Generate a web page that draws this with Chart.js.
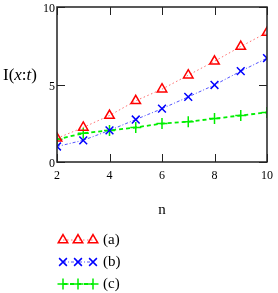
<!DOCTYPE html>
<html>
<head>
<meta charset="utf-8">
<script src="https://cdn.jsdelivr.net/npm/chart.js@4"></script>
<style>
  html, body { margin: 0; padding: 0; background: #fff; }
  #wrap { width: 278px; height: 293px; }
</style>
</head>
<body>
<div id="wrap"><canvas id="grafico" width="278" height="293"></canvas></div>
<script>
// dados
const nValores = [2, 3, 4, 5, 6, 7, 8, 9, 10];
const serieA = [1.53, 2.23, 3.0, 3.95, 4.7, 5.6, 6.5, 7.45, 8.35];
const serieB = [1.0, 1.4, 2.04, 2.74, 3.44, 4.2, 4.97, 5.86, 6.7];
const serieC = [1.46, 1.85, 2.04, 2.23, 2.48, 2.6, 2.8, 3.0, 3.2];
const rotulos = ["(a)", "(b)", "(c)"];
const ticksX = [2, 4, 6, 8, 10];
const ticksY = [0, 5, 10];

const serif = "'Liberation Serif', 'DejaVu Serif', serif";

function pontos(vals) {
  return nValores.map((n, i) => ({ x: n, y: vals[i] }));
}

const datasets = [
  {
    label: rotulos[0], data: pontos(serieA),
    borderColor: "rgba(255,60,60,0.75)", borderWidth: 1, borderDash: [1.5, 2.5],
    pointStyle: "triangle", pointRadius: 5.5, pointBorderColor: "#ff0000",
    pointBackgroundColor: "rgba(0,0,0,0)", pointBorderWidth: 1.5
  },
  {
    label: rotulos[1], data: pontos(serieB),
    borderColor: "rgba(40,40,255,0.8)", borderWidth: 1, borderDash: [3, 2, 1, 2],
    pointStyle: "crossRot", pointRadius: 5.5, pointBorderColor: "#0000ff",
    pointBorderWidth: 1.5
  },
  {
    label: rotulos[2], data: pontos(serieC),
    borderColor: "#00ee00", borderWidth: 1.8, borderDash: [4, 3],
    pointStyle: "cross", pointRadius: 5.5, pointBorderColor: "#00ee00",
    pointBorderWidth: 1.5
  }
];

// moldura, ticks para dentro, título do eixo y e legenda
const extras = {
  id: "extras",
  afterDraw(c) {
    const ctx = c.ctx;
    const a = c.chartArea;
    const sx = c.scales.x, sy = c.scales.y;
    ctx.save();
    ctx.strokeStyle = "#222";
    ctx.lineWidth = 1.5;
    ctx.strokeRect(a.left, a.top, a.right - a.left, a.bottom - a.top);
    ctx.lineWidth = 1;
    ctx.beginPath();
    ticksX.forEach(v => {
      const px = Math.round(sx.getPixelForValue(v)) + 0.5;
      ctx.moveTo(px, a.bottom); ctx.lineTo(px, a.bottom - 8);
      ctx.moveTo(px, a.top); ctx.lineTo(px, a.top + 8);
    });
    ticksY.forEach(v => {
      const py = Math.round(sy.getPixelForValue(v)) + 0.5;
      ctx.moveTo(a.left, py); ctx.lineTo(a.left + 8, py);
      ctx.moveTo(a.right, py); ctx.lineTo(a.right - 8, py);
    });
    ctx.stroke();

    // I(x:t)
    ctx.fillStyle = "#000";
    ctx.textBaseline = "middle";
    let x = 3;
    const yT = 76;
    [["I(", ""], ["x", "italic "], [":", ""], ["t", "italic "], [")", ""]].forEach(([t, st]) => {
      ctx.font = st + "17px " + serif;
      ctx.fillText(t, x, yT);
      x += ctx.measureText(t).width;
    });

    // legenda
    const ys = [240, 262, 284];
    c.data.datasets.forEach((ds, i) => {
      const y = ys[i];
      ctx.save();
      ctx.strokeStyle = ds.borderColor;
      ctx.lineWidth = ds.borderWidth;
      ctx.setLineDash(ds.borderDash);
      ctx.beginPath();
      ctx.moveTo(63, y); ctx.lineTo(93, y);
      ctx.stroke();
      ctx.restore();
      [63, 78, 93].forEach(px => {
        ctx.strokeStyle = ds.pointBorderColor;
        ctx.fillStyle = "rgba(0,0,0,0)";
        ctx.lineWidth = ds.pointBorderWidth;
        Chart.helpers.drawPoint(ctx, {
          pointStyle: ds.pointStyle, radius: ds.pointRadius, rotation: 0, borderWidth: ds.pointBorderWidth
        }, px, y);
      });
      ctx.fillStyle = "#000";
      ctx.font = "15px " + serif;
      ctx.textBaseline = "middle";
      ctx.fillText(ds.label, 103, y);
    });
    ctx.restore();
  }
};

new Chart(document.getElementById("grafico"), {
  type: "line",
  data: { datasets },
  options: {
    responsive: false,
    animation: false,
    layout: { padding: { left: 0, right: 11, top: 5, bottom: 74 } },
    plugins: { legend: { display: false }, tooltip: { enabled: false } },
    scales: {
      x: {
        type: "linear", min: 2, max: 10,
        afterBuildTicks: s => { s.ticks = ticksX.map(v => ({ value: v })); },
        afterFit: s => { s.height = 57; s.paddingLeft = 0; s.paddingRight = 0; },
        grid: { display: false, drawTicks: false },
        border: { display: false },
        ticks: { color: "#000", padding: 7, maxRotation: 0, font: { family: serif, size: 12 } },
        title: { display: true, text: "n", color: "#000", padding: 0, font: { family: serif, size: 15 } }
      },
      y: {
        type: "linear", min: 0, max: 10,
        afterBuildTicks: s => { s.ticks = ticksY.map(v => ({ value: v })); },
        afterFit: s => { s.width = 57; s.paddingTop = 0; s.paddingBottom = 0; },
        grid: { display: false, drawTicks: false },
        border: { display: false },
        ticks: { color: "#000", padding: 2, labelOffset: 2, font: { family: serif, size: 12 } }
      }
    }
  },
  plugins: [extras]
});
</script>
</body>
</html>
